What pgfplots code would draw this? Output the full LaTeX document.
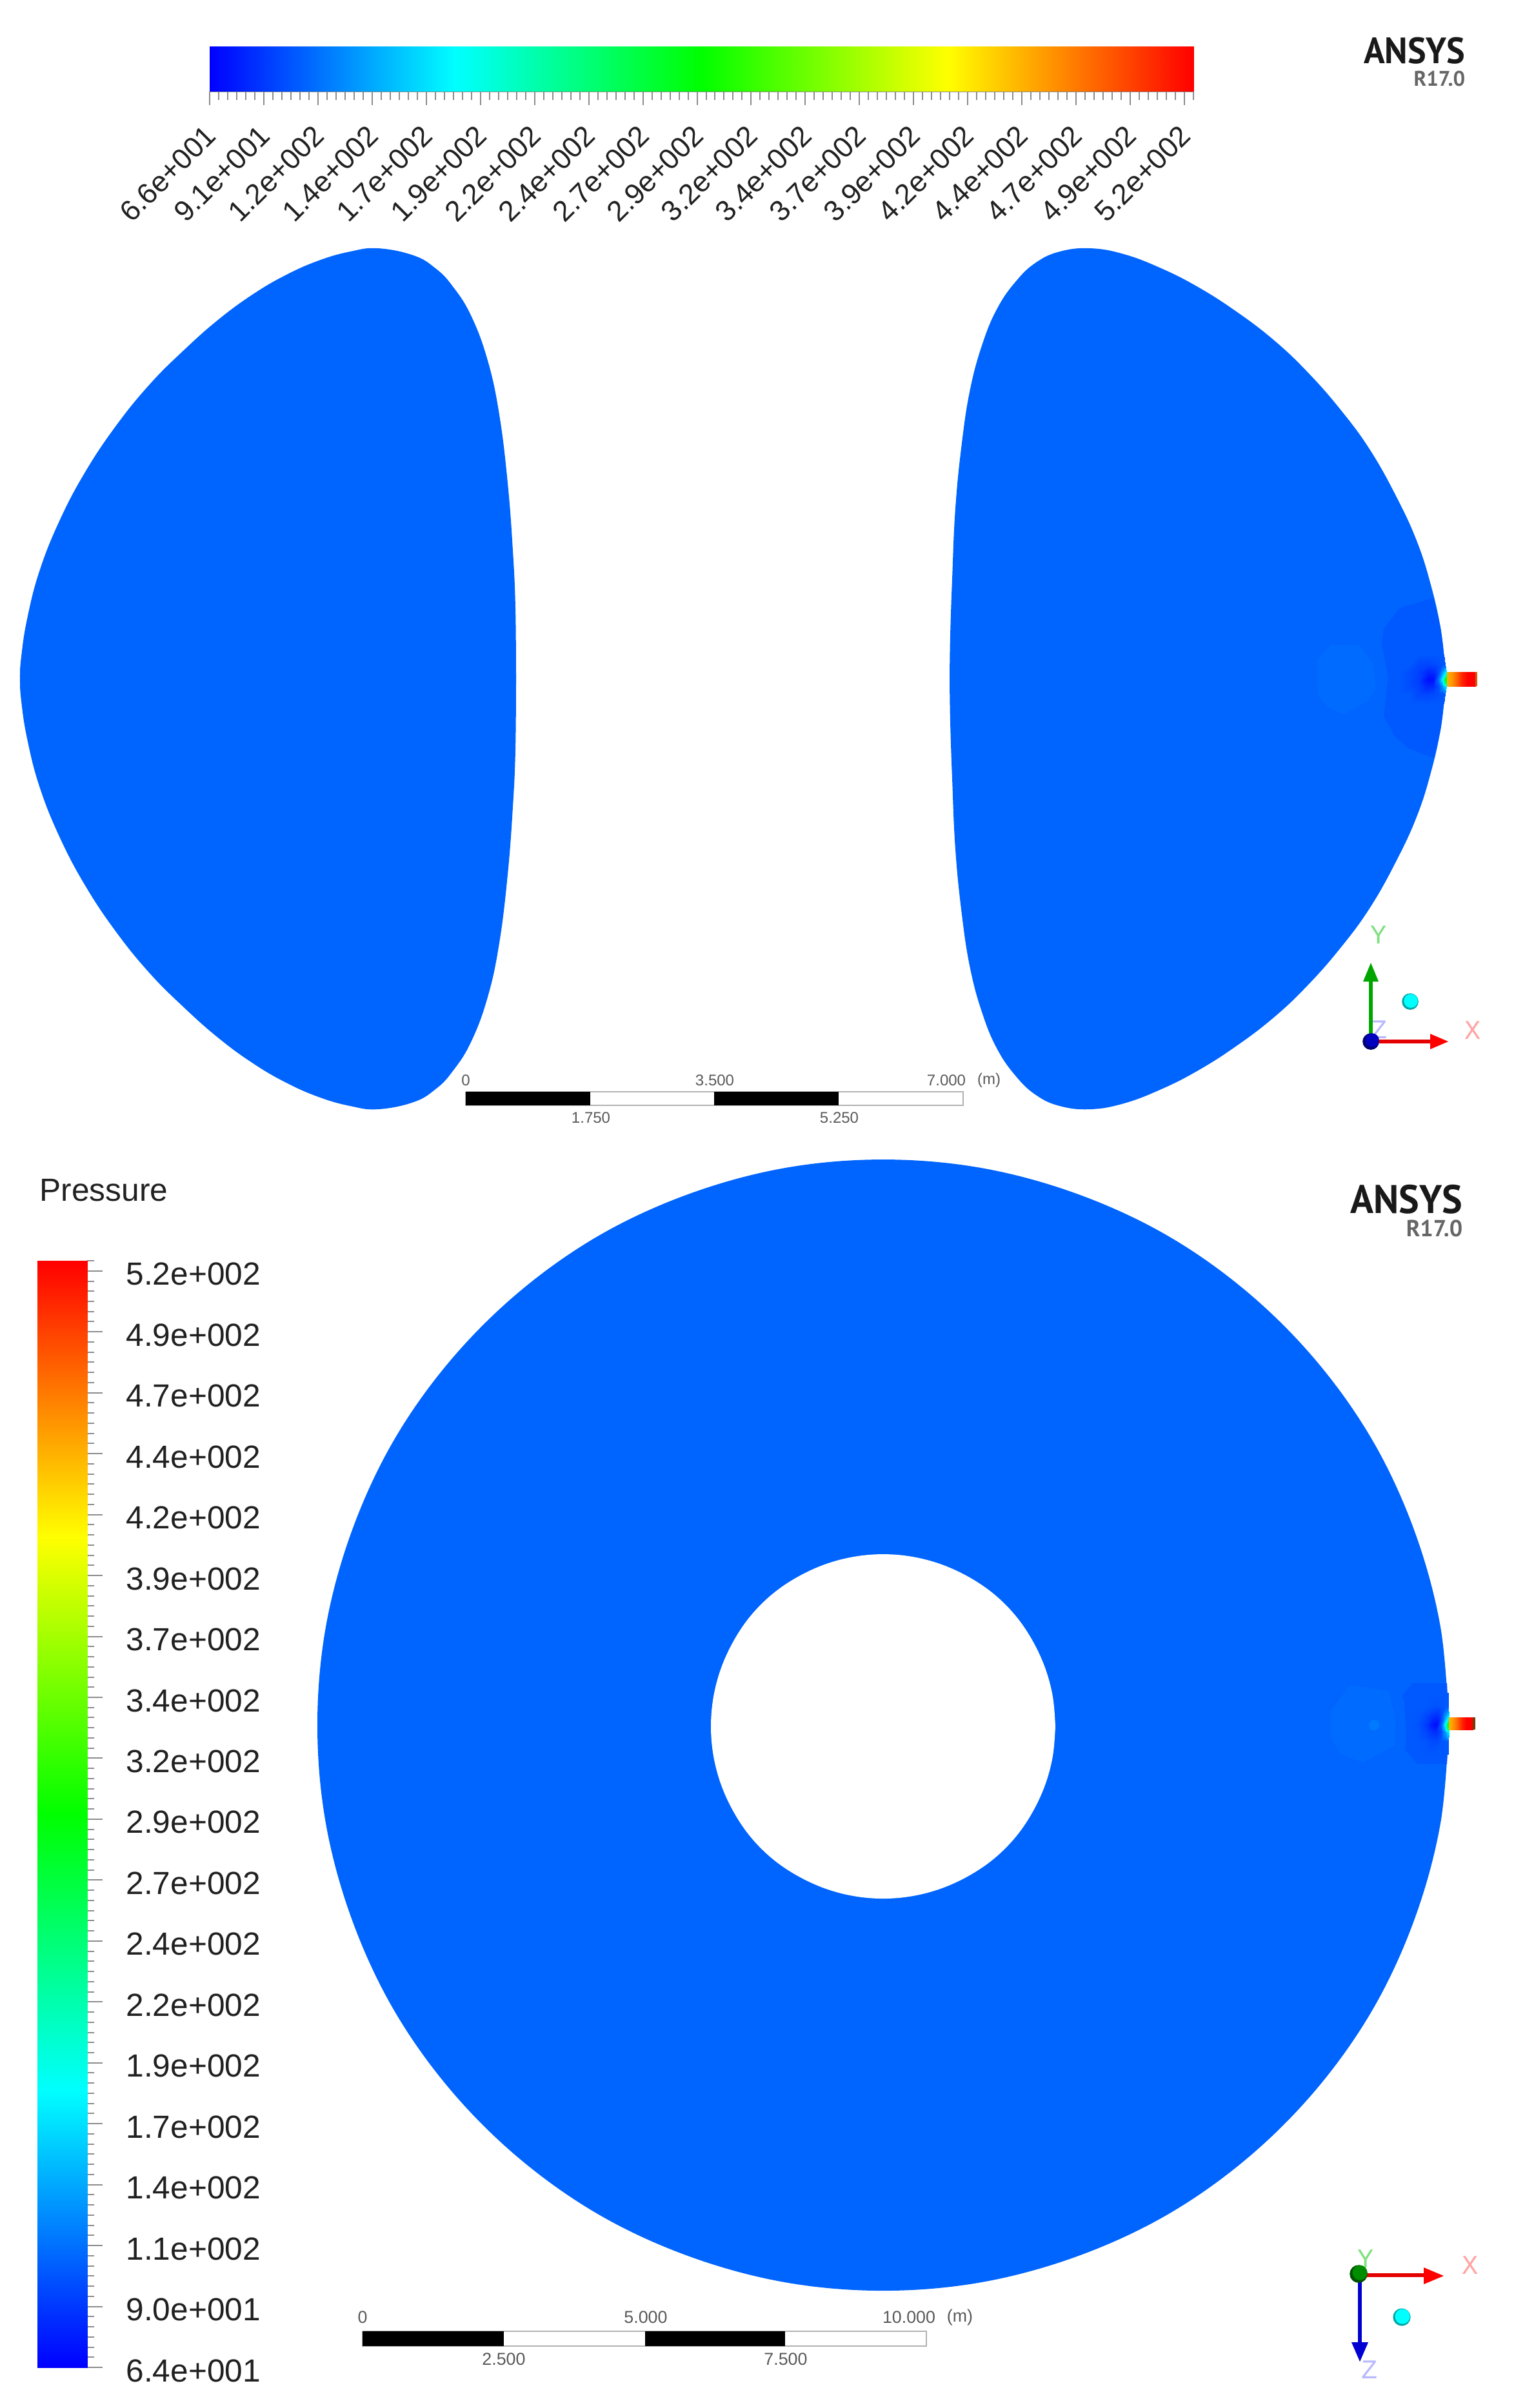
\documentclass[border=0pt]{standalone}
\usepackage{fontspec}
\setmainfont{Liberation Sans}
\newfontfamily\logofont{PT Sans}
\newfontfamily\triadfont{Liberation Mono}
\usepackage{pgfplots}
\pgfplotsset{compat=1.18}
\definecolor{bodyblue}{RGB}{0,100,255}
\definecolor{bodylight}{RGB}{0,108,255}
\definecolor{bodydark}{RGB}{0,88,255}
\definecolor{spotblue}{RGB}{0,122,255}
\definecolor{endbrown}{RGB}{205,95,15}
\definecolor{endbrownb}{RGB}{120,60,10}
\definecolor{arrowgreen}{RGB}{0,165,0}
\definecolor{arrowblue}{RGB}{0,0,210}
\definecolor{ballnavy}{RGB}{0,0,110}
\definecolor{ballblue}{RGB}{0,0,190}
\definecolor{ballteal}{RGB}{0,165,165}
\definecolor{ballcyan}{RGB}{0,255,255}
\definecolor{balldkgreen}{RGB}{0,80,0}
\definecolor{ballgreen}{RGB}{0,140,0}
\definecolor{txt}{gray}{0.13}
\definecolor{pgreen}{RGB}{130,225,130}
\definecolor{pred}{RGB}{255,165,165}
\definecolor{pblue}{RGB}{185,185,255}
\pgfplotsset{
  colormap={ansys}{rgb255(0)=(0,0,255) rgb255(1)=(0,255,255) rgb255(2)=(0,255,0) rgb255(3)=(255,255,0) rgb255(4)=(255,0,0)},
  every axis/.append style={point meta min=0, point meta max=4},
  blob/.style={fill=#1, draw=none, smooth, tension=0.7},
  flat/.style={fill=#1, draw=none},
  heat/.style={surf, shader=interp, point meta=explicit},
  sball/.style={only marks, mark=*, mark size=#1, mark options={draw=none}},
}
\begin{document}
\begin{tikzpicture}
\path[use as bounding box] (0,0) rectangle (591pt,-933.5pt);
% 1 px of the reference = 0.25pt, y runs downward as in the screenshot
\begin{axis}[
  at={(0,0)}, anchor=north west,
  scale only axis, width=591pt, height=933.5pt,
  xmin=0, xmax=2364, ymin=0, ymax=3734, y dir=reverse,
  axis lines=none, clip=false,
]
% side view, left section
\addplot[blob=bodyblue] coordinates {
(800,1052) (799,942) (795,854) (787,749) (774,643) (756,559) (730,489) (701,443) (675,416) (641,396)
(586,385) (543,390) (494,404) (442,427) (391,457) (338,496) (285,543) (232,596) (180,660) (132,732)
(92,808) (61,886) (42,960) (33,1018) (31,1052) (33,1087) (42,1145) (61,1219) (92,1297) (132,1373)
(180,1445) (232,1509) (285,1562) (338,1609) (391,1648) (442,1678) (494,1701) (543,1715) (586,1720)
(641,1709) (675,1689) (701,1662) (730,1616) (756,1546) (774,1462) (787,1356) (795,1251) (799,1163) (800,1052)
};
% side view, right section
\addplot[blob=bodyblue] coordinates {
(1472,1052) (1473,986) (1476,898) (1481,788) (1491,687) (1504,603) (1523,533) (1546,478) (1575,436)
(1606,407) (1643,390) (1690,385) (1742,394) (1800,416) (1857,445) (1915,482) (1973,526) (2025,575)
(2077,634) (2124,698) (2166,773) (2197,841) (2218,907) (2233,973) (2240,1030) (2243,1052) (2240,1075)
(2233,1132) (2218,1198) (2197,1264) (2166,1332) (2124,1407) (2077,1471) (2025,1530) (1973,1579)
(1915,1623) (1857,1660) (1800,1689) (1742,1711) (1690,1720) (1643,1715) (1606,1698) (1575,1669)
(1546,1627) (1523,1572) (1504,1502) (1491,1418) (1481,1317) (1476,1207) (1473,1119) (1472,1052)
};
\addplot[flat=bodylight] coordinates {(2063,1000) (2107,1000) (2127,1027) (2133,1067) (2120,1087) (2083,1108) (2060,1098) (2043,1077) (2042,1023)};
\addplot[flat=bodydark] coordinates {(2222,927) (2170,943) (2145,975) (2142,997) (2152,1050) (2145,1110) (2163,1143) (2183,1160) (2222,1175) (2233,1132) (2240,1075) (2243,1052) (2240,1030) (2233,973)};
\addplot[heat, mesh/cols=8] table[meta=m] {
x y m
2170 1015 .345
2186 1015 .345
2200 1015 .345
2214 1015 .345
2222 1015 .345
2230 1015 .345
2234 1015 .345
2238 1015 .345
2170 1030 .345
2186 1030 .345
2200 1030 .28
2214 1030 .27
2222 1030 .29
2230 1030 .31
2236 1030 .33
2240 1030 .345
2170 1042 .345
2186 1042 .30
2200 1042 .25
2214 1042 .15
2222 1042 .17
2230 1042 .30
2236 1042 .60
2242 1042 1.0
2170 1053 .345
2186 1053 .30
2200 1053 .24
2214 1053 .05
2222 1053 .06
2230 1053 .45
2236 1053 1.0
2243 1053 2.4
2170 1064 .345
2186 1064 .30
2200 1064 .25
2214 1064 .15
2222 1064 .17
2230 1064 .30
2236 1064 .60
2242 1064 1.0
2170 1076 .345
2186 1076 .345
2200 1076 .28
2214 1076 .27
2222 1076 .29
2230 1076 .31
2236 1076 .33
2240 1076 .345
2170 1091 .345
2186 1091 .345
2200 1091 .345
2214 1091 .345
2222 1091 .345
2230 1091 .345
2234 1091 .345
2238 1091 .345
};
% inlet pipe, side view
\addplot[heat, mesh/cols=6] table[meta=m] {
x y m
2243 1042 3.3
2250 1042 3.4
2258 1042 3.6
2266 1042 3.85
2275 1042 4
2287 1042 4
2243 1064 3.3
2250 1064 3.4
2258 1064 3.6
2266 1064 3.85
2275 1064 4
2287 1064 4
};
\addplot[flat=endbrown] coordinates {(2287,1042) (2290,1042) (2290,1064) (2287,1064)};

% plan view, annulus
\addplot[blob=bodyblue, tension=0.6] coordinates {
(2246,2675) (2233,2827) (2193,2975) (2129,3114) (2041,3239) (1933,3347) (1808,3435) (1669,3499) (1521,3539)
(1369,3552) (1217,3539) (1069,3499) (930,3435) (805,3347) (697,3239) (609,3114) (545,2975) (505,2827)
(492,2675) (505,2523) (545,2375) (609,2236) (697,2111) (805,2003) (930,1915) (1069,1851) (1217,1811)
(1369,1798) (1521,1811) (1669,1851) (1808,1915) (1933,2003) (2041,2111) (2129,2236) (2193,2375) (2233,2523) (2246,2675)
};
\addplot[blob=white, tension=0.6] coordinates {
(1636,2677) (1632,2723) (1620,2768) (1600,2811) (1574,2849) (1541,2882) (1503,2908) (1460,2928) (1415,2940)
(1369,2944) (1323,2940) (1278,2928) (1235,2908) (1197,2882) (1164,2849) (1138,2811) (1118,2768) (1106,2723)
(1102,2677) (1106,2631) (1118,2586) (1138,2543) (1164,2505) (1197,2472) (1235,2446) (1278,2426) (1323,2414)
(1369,2410) (1415,2414) (1460,2426) (1503,2446) (1541,2472) (1574,2505) (1600,2543) (1620,2586) (1632,2631) (1636,2677)
};
\addplot[flat=bodylight] coordinates {(2093,2613) (2153,2622) (2163,2667) (2162,2707) (2113,2733) (2078,2720) (2063,2693) (2063,2653)};
\addplot[sball=1.8pt, color=spotblue] coordinates {(2130,2675)};
\addplot[flat=bodydark] coordinates {(2190,2610) (2243,2610) (2246,2675) (2243,2735) (2197,2735) (2178,2713) (2180,2693) (2177,2637) (2173,2630)};
\addplot[heat, mesh/cols=8] table[meta=m] {
x y m
2185 2625 .345
2198 2625 .345
2210 2625 .345
2220 2625 .345
2227 2625 .345
2234 2625 .345
2240 2625 .345
2245 2625 .345
2185 2645 .345
2198 2645 .345
2210 2645 .345
2220 2645 .33
2227 2645 .33
2234 2645 .34
2240 2645 .345
2245 2645 .345
2185 2662 .345
2198 2662 .34
2210 2662 .28
2220 2662 .20
2227 2662 .16
2234 2662 .28
2240 2662 .60
2246 2662 1.0
2185 2674 .345
2198 2674 .33
2210 2674 .24
2220 2674 .10
2227 2674 .04
2234 2674 .35
2240 2674 1.0
2246 2674 2.4
2185 2686 .345
2198 2686 .34
2210 2686 .28
2220 2686 .20
2227 2686 .18
2234 2686 .28
2240 2686 .60
2246 2686 1.0
2185 2700 .345
2198 2700 .345
2210 2700 .33
2220 2700 .29
2227 2700 .29
2234 2700 .33
2240 2700 .345
2245 2700 .345
2185 2720 .345
2198 2720 .345
2210 2720 .345
2220 2720 .345
2227 2720 .345
2234 2720 .345
2240 2720 .345
2245 2720 .345
};
\addplot[heat, mesh/cols=6] table[meta=m] {
x y m
2246 2663 3.3
2252 2663 3.4
2259 2663 3.6
2266 2663 3.85
2273 2663 4
2283 2663 4
2246 2682 3.3
2252 2682 3.4
2259 2682 3.6
2266 2682 3.85
2273 2682 4
2283 2682 4
};
\addplot[flat=endbrownb] coordinates {(2283,2663) (2287,2663) (2287,2682) (2283,2682)};

% scale bars
\addplot[fill=white, draw=black!30, line width=0.5pt] coordinates {(722,1693) (1493,1693) (1493,1714) (722,1714) (722,1693)};
\addplot[flat=black] coordinates {(722,1693) (915,1693) (915,1714) (722,1714)};
\addplot[flat=black] coordinates {(1107,1693) (1300,1693) (1300,1714) (1107,1714)};
\addplot[fill=white, draw=black!30, line width=0.5pt] coordinates {(562,3615) (1436,3615) (1436,3638) (562,3638) (562,3615)};
\addplot[flat=black] coordinates {(562,3615) (781,3615) (781,3638) (562,3638)};
\addplot[flat=black] coordinates {(1000,3615) (1217,3615) (1217,3638) (1000,3638)};

% triads
\addplot[color=arrowgreen, line width=1.5pt] coordinates {(2125,1615) (2125,1520)};
\addplot[flat=arrowgreen] coordinates {(2125,1493) (2137,1522) (2113,1522)};
\addplot[color=red!90!black, line width=1.5pt] coordinates {(2125,1615) (2220,1615)};
\addplot[flat=red] coordinates {(2245,1615) (2217,1603) (2217,1627)};
\addplot[sball=3pt, color=ballnavy] coordinates {(2125,1615)};
\addplot[sball=2.5pt, color=ballblue] coordinates {(2127,1613)};
\addplot[sball=3pt, color=ballteal] coordinates {(2186,1553)};
\addplot[sball=2.5pt, color=ballcyan] coordinates {(2187,1552)};

\addplot[color=red!90!black, line width=1.5pt] coordinates {(2106,3528) (2210,3528)};
\addplot[flat=red] coordinates {(2238,3529) (2207,3516) (2207,3542)};
\addplot[color=arrowblue, line width=1.5pt] coordinates {(2108,3526) (2108,3635)};
\addplot[flat=arrowblue] coordinates {(2108,3662) (2095,3632) (2121,3632)};
\addplot[sball=3.25pt, color=balldkgreen] coordinates {(2106,3526)};
\addplot[sball=2.7pt, color=ballgreen] coordinates {(2108,3524)};
\addplot[sball=3.2pt, color=ballteal] coordinates {(2173,3593)};
\addplot[sball=2.7pt, color=ballcyan] coordinates {(2174,3592)};

% texts
\node[anchor=base west, inner sep=0, text=txt, font=\fontsize{12.4}{14}\selectfont] at (axis cs:61,1862) {Pressure};
\node[anchor=base east, xscale=0.95, inner sep=0, text=black!90, font=\logofont\bfseries\fontsize{14.2}{16}\selectfont] at (axis cs:2272,98) {ANSYS};
\node[anchor=base east, inner sep=0, text=black!60, font=\logofont\bfseries\fontsize{8.2}{10}\selectfont] at (axis cs:2272,133) {R17.0};
\node[anchor=base east, xscale=0.96, inner sep=0, text=black!90, font=\logofont\bfseries\fontsize{15.5}{17}\selectfont] at (axis cs:2268,1881) {ANSYS};
\node[anchor=base east, inner sep=0, text=black!60, font=\logofont\bfseries\fontsize{9}{11}\selectfont] at (axis cs:2268,1917) {R17.0};

\tikzset{sb/.style={inner sep=0, text=black!65, font=\fontsize{6}{7}\selectfont},
         sc/.style={inner sep=0, text=black!65, font=\fontsize{6.7}{8}\selectfont},
         tr/.style={inner sep=0, font=\triadfont\fontsize{10.5}{12}\selectfont}}
\node[sb] at (axis cs:722,1675) {0};
\node[sb] at (axis cs:1108,1675) {3.500};
\node[sb] at (axis cs:1467,1675) {7.000};
\node[sb] at (axis cs:1533,1675) {(m)};
\node[sb] at (axis cs:916,1733) {1.750};
\node[sb] at (axis cs:1301,1733) {5.250};
\node[sc] at (axis cs:562,3593) {0};
\node[sc] at (axis cs:1001,3593) {5.000};
\node[sc] at (axis cs:1409,3593) {10.000};
\node[sc] at (axis cs:1488,3593) {(m)};
\node[sc] at (axis cs:781,3658) {2.500};
\node[sc] at (axis cs:1218,3658) {7.500};

\node[tr, text=pgreen] at (axis cs:2137,1450) {Y};
\node[tr, text=pred] at (axis cs:2283,1598) {X};
\node[tr, text=pblue] at (axis cs:2138,1597) {Z};
\node[tr, text=pgreen] at (axis cs:2117,3503) {Y};
\node[tr, text=pred] at (axis cs:2279,3513) {X};
\node[tr, text=pblue] at (axis cs:2123,3675) {Z};
\end{axis}

% horizontal legend
\begin{axis}[
  at={(81.25pt,-35.5pt)}, anchor=south west,
  scale only axis, width=381.25pt, height=17.5pt,
  xmin=0, xmax=18.1667, ymin=0, ymax=1,
  axis x line=bottom, axis line style={-, black!45, line width=0.4pt},
  hide y axis,
  xtick={0,...,18}, minor x tick num=5, tick align=outside,
  major tick length=5.25pt, minor tick length=3.25pt,
  tick style={black!45, line width=0.5pt},
  extra x ticks={18.1667}, extra x tick labels={},
  extra x tick style={major tick length=3.25pt},
  xticklabels={6.6e+001,9.1e+001,1.2e+002,1.4e+002,1.7e+002,1.9e+002,2.2e+002,2.4e+002,2.7e+002,2.9e+002,3.2e+002,3.4e+002,3.7e+002,3.9e+002,4.2e+002,4.4e+002,4.7e+002,4.9e+002,5.2e+002},
  xticklabel style={yshift=-9.75pt, xshift=0.5pt, rotate=45, anchor=east, inner sep=0pt, text=txt, font=\fontsize{11.2}{13}\selectfont},
]
\addplot[heat, mesh/cols=5] table[meta=m] {
x y m
0 0 0
4.5417 0 1
9.0833 0 2
13.625 0 3
18.1667 0 4
0 1 0
4.5417 1 1
9.0833 1 2
13.625 1 3
18.1667 1 4
};
\end{axis}

% vertical legend
\begin{axis}[
  at={(14.4pt,-917.75pt)}, anchor=south west,
  scale only axis, width=19.4pt, height=429pt,
  ymin=0, ymax=18.1667, xmin=0, xmax=1,
  axis y line=right, axis line style={-, black!45, line width=0.4pt},
  hide x axis,
  ytick={0,...,18}, minor y tick num=5, tick align=outside,
  major tick length=5.9pt, minor tick length=2.75pt,
  tick style={black!45, line width=0.5pt},
  extra y ticks={18.1667}, extra y tick labels={},
  extra y tick style={major tick length=2.75pt},
  yticklabels={6.4e+001,9.0e+001,1.1e+002,1.4e+002,1.7e+002,1.9e+002,2.2e+002,2.4e+002,2.7e+002,2.9e+002,3.2e+002,3.4e+002,3.7e+002,3.9e+002,4.2e+002,4.4e+002,4.7e+002,4.9e+002,5.2e+002},
  yticklabel style={anchor=west, inner sep=0pt, xshift=9pt, yshift=-1.25pt, text=txt, font=\fontsize{12.4}{14}\selectfont},
]
\addplot[heat, mesh/cols=2] table[meta=m] {
x y m
0 0 0
1 0 0
0 4.5417 1
1 4.5417 1
0 9.0833 2
1 9.0833 2
0 13.625 3
1 13.625 3
0 18.1667 4
1 18.1667 4
};
\end{axis}
\end{tikzpicture}
\end{document}
